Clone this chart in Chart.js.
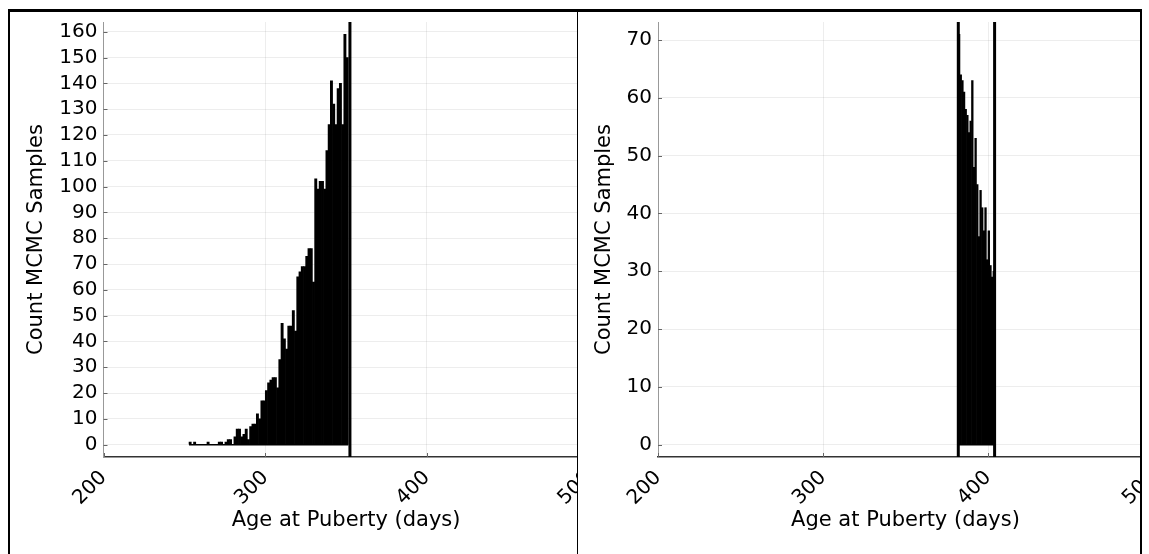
<!DOCTYPE html>
<html>
<head>
<meta charset="utf-8">
<title>Age at Puberty</title>
<script src="https://cdn.jsdelivr.net/npm/chart.js@4.4.0/dist/chart.umd.min.js"></script>
<style>
  html, body { margin: 0; padding: 0; background: #fff; }
  body { width: 1149px; height: 554px; position: relative; overflow: hidden; }
  .panel { position: absolute; top: 12px; height: 542px; overflow: hidden; }
  #panelA { left: 10px; width: 566.5px; }
  #panelB { left: 578px; width: 562px; }
  .panel canvas { position: absolute; left: 0; top: 0; }
  .rule { position: absolute; background: #000; }
</style>
</head>
<body>
<div class="rule" style="left:8px;top:9px;width:1134px;height:3px"></div>
<div class="rule" style="left:8px;top:9px;width:2px;height:545px"></div>
<div class="rule" style="left:576.5px;top:9px;width:1.5px;height:545px"></div>
<div class="rule" style="left:1140px;top:9px;width:2px;height:545px"></div>
<div class="panel" id="panelA"><canvas id="chartA" width="620" height="542"></canvas></div>
<div class="panel" id="panelB"><canvas id="chartB" width="620" height="542"></canvas></div>
<script>
// Histogram counts of MCMC samples of age at puberty (days), two groups
const binStartA = 252.9;
const binWidthA = 1.387;
const countsA = [1, 0, 1, 0, 0, 0, 0, 0, 1, 0, 0, 0, 0, 1, 1, 0, 1, 2, 2, 0,
                 3, 6, 6, 3, 4, 6, 2, 7, 8, 8, 12, 10, 17, 17, 21, 24,
                 25, 26, 26, 22, 33, 47, 41, 37, 46, 46, 52, 44, 65, 67, 69, 69, 73, 76, 76, 63,
                 103, 99, 102, 102, 99,
                 114, 124, 141, 132, 124, 138, 140, 124, 159, 150];
const cutoffsA = [352.4];

const binStartB = 382;
const binWidthB = 1;
const countsB = [71, 64, 63, 61, 58, 57, 54, 56, 63, 48, 53, 45, 36, 44, 41, 37, 41, 32, 37, 31, 29, 30];
const cutoffsB = [382, 404];

const xTicks = [200, 300, 400, 500];

Chart.defaults.font.family = "'DejaVu Sans', sans-serif";
Chart.defaults.color = '#000';

// bin baseline, vertical cut-off lines and inward tick marks
const markLines = {
  id: 'markLines',
  afterDraw(chart, args, opts) {
    const {ctx, chartArea, scales: {x, y}} = chart;
    ctx.save();
    ctx.strokeStyle = '#000';
    ctx.lineWidth = 1.5;
    const y0 = y.getPixelForValue(0);
    ctx.beginPath();
    ctx.moveTo(x.getPixelForValue(opts.from), y0);
    ctx.lineTo(x.getPixelForValue(opts.to), y0);
    ctx.stroke();

    ctx.lineWidth = 3;
    opts.lines.forEach(v => {
      const px = x.getPixelForValue(v);
      ctx.beginPath();
      ctx.moveTo(px, chartArea.top);
      ctx.lineTo(px, chartArea.bottom);
      ctx.stroke();
    });

    ctx.strokeStyle = '#666';
    ctx.lineWidth = 1;
    y.ticks.forEach(t => {
      const py = Math.round(y.getPixelForValue(t.value)) + 0.5;
      ctx.beginPath();
      ctx.moveTo(chartArea.left, py);
      ctx.lineTo(chartArea.left + 4, py);
      ctx.stroke();
    });
    x.ticks.forEach(t => {
      const px = Math.round(x.getPixelForValue(t.value)) + 0.5;
      ctx.beginPath();
      ctx.moveTo(px, chartArea.bottom);
      ctx.lineTo(px, chartArea.bottom - 4);
      ctx.stroke();
    });
    ctx.restore();
  }
};

function histogram(canvasId, binStart, binWidth, counts, cutoffs, areaLeft, padRight) {
  const points = counts.map((c, i) => ({x: binStart + binWidth * (i + 0.5), y: c}));
  const top = Math.max(...counts);
  const pad = top * 0.03;

  return new Chart(document.getElementById(canvasId), {
    type: 'bar',
    data: {
      datasets: [{
        data: points,
        backgroundColor: '#000',
        borderWidth: 0,
        barPercentage: 1,
        categoryPercentage: 1
      }]
    },
    options: {
      responsive: false,
      animation: false,
      layout: {padding: {top: 10, right: padRight, bottom: 0, left: 0}},
      plugins: {
        legend: {display: false},
        tooltip: {enabled: false},
        markLines: {from: binStart, to: binStart + binWidth * counts.length, lines: cutoffs}
      },
      scales: {
        x: {
          type: 'linear',
          min: xTicks[0],
          max: xTicks[xTicks.length - 1],
          offset: false,
          afterBuildTicks: s => { s.ticks = xTicks.map(v => ({value: v})); },
          afterFit: s => { s.height = 97; s.paddingLeft = 0; s.paddingRight = 0; },
          grid: {color: 'rgba(0,0,0,0.07)', drawTicks: false, offset: false},
          border: {color: '#333', width: 1.5},
          ticks: {font: {size: 20}, maxRotation: 45, minRotation: 45, padding: 9, autoSkip: false},
          title: {display: true, text: 'Age at Puberty (days)', font: {size: 21}, padding: {top: 0, bottom: 20.4}}
        },
        y: {
          min: -pad,
          max: top + pad,
          afterFit: s => { s.width = areaLeft; s.paddingTop = 0; s.paddingBottom = 0; },
          grid: {color: 'rgba(0,0,0,0.07)', drawTicks: false},
          border: {color: '#999', width: 1},
          ticks: {stepSize: 10, includeBounds: false, autoSkip: false, font: {size: 20}, padding: 6},
          title: {display: true, text: 'Count MCMC Samples', font: {size: 21}, padding: {top: 14.4, bottom: 0}}
        }
      }
    },
    plugins: [markLines]
  });
}

histogram('chartA', binStartA, binWidthA, countsA, cutoffsA, 93.5, 41.4);
histogram('chartB', binStartB, binWidthB, countsB, cutoffsB, 80, 45);
</script>
</body>
</html>
